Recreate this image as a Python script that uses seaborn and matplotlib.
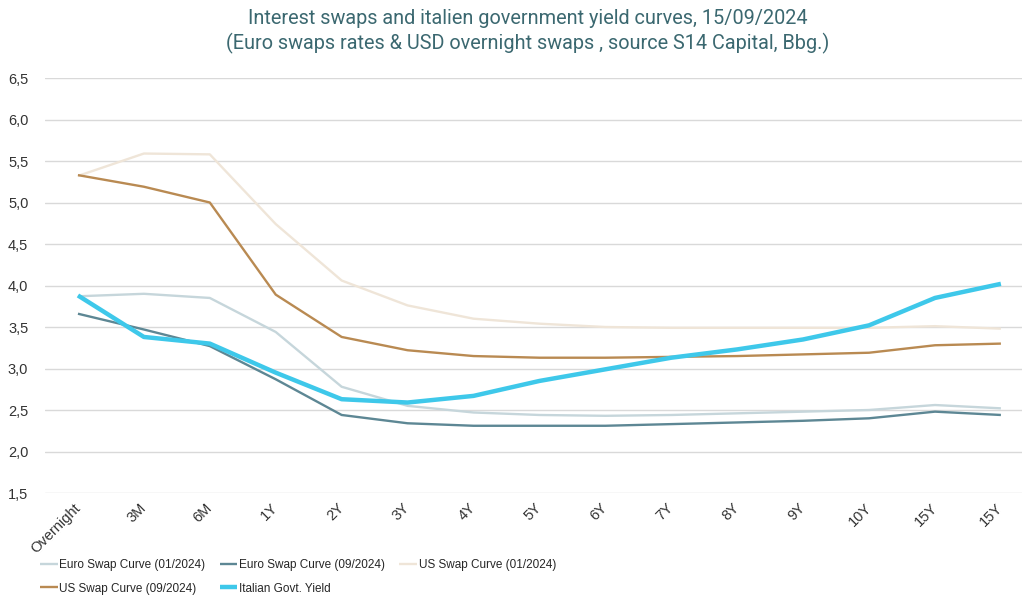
import matplotlib
matplotlib.use("Agg")
import matplotlib.pyplot as plt
import seaborn as sns
import pandas as pd
from matplotlib.ticker import FuncFormatter

# Tenors along the curve (the long end label appears twice in the source table)
tenors = ["Overnight", "3M", "6M", "1Y", "2Y", "3Y", "4Y", "5Y", "6Y", "7Y",
          "8Y", "9Y", "10Y", "15Y", "15Y"]

euro_swap_01_2024 = [3.87, 3.90, 3.85, 3.44, 2.78, 2.55, 2.47, 2.44, 2.43, 2.44,
                     2.46, 2.48, 2.50, 2.56, 2.52]
euro_swap_09_2024 = [3.66, 3.47, 3.27, 2.87, 2.44, 2.34, 2.31, 2.31, 2.31, 2.33,
                     2.35, 2.37, 2.40, 2.48, 2.44]
us_swap_01_2024 = [5.32, 5.59, 5.58, 4.74, 4.06, 3.76, 3.60, 3.54, 3.50, 3.49,
                   3.49, 3.49, 3.49, 3.51, 3.48]
us_swap_09_2024 = [5.33, 5.19, 5.00, 3.89, 3.38, 3.22, 3.15, 3.13, 3.13, 3.14,
                   3.15, 3.17, 3.19, 3.28, 3.30]
italian_govt_yield = [3.88, 3.38, 3.30, 2.95, 2.63, 2.59, 2.67, 2.85, 2.99, 3.13,
                      3.23, 3.35, 3.52, 3.85, 4.02]

series_names = ["Euro Swap Curve (01/2024)", "Euro Swap Curve (09/2024)",
                "US Swap Curve (01/2024)", "US Swap Curve (09/2024)",
                "Italian Govt. Yield"]
series_values = [euro_swap_01_2024, euro_swap_09_2024, us_swap_01_2024,
                 us_swap_09_2024, italian_govt_yield]
series_colors = ["#c6d6db", "#5d8794", "#efe5d8", "#b98a52", "#3ec8ea"]
series_widths = [1.7, 1.7, 1.7, 1.7, 3.2]

yticks = [1.5, 2.0, 2.5, 3.0, 3.5, 4.0, 4.5, 5.0, 5.5, 6.0, 6.5]

rows = []
for name, vals in zip(series_names, series_values):
    for i, v in enumerate(vals):
        rows.append({"series": name, "pos": i, "rate": v})
df = pd.DataFrame(rows)

sns.set_theme(style="white")
plt.rcParams["font.family"] = ["Liberation Sans", "DejaVu Sans"]

fig = plt.figure(figsize=(10.22, 5.99), dpi=100)
ax = fig.add_axes([45 / 1022, 1 - 493 / 599, 977 / 1022, (493 - 78) / 599])

handles = {}
for name, color, lw in zip(series_names, series_colors, series_widths):
    sub = df[df["series"] == name]
    sns.lineplot(data=sub, x="pos", y="rate", ax=ax, color=color, linewidth=lw,
                 label=name, legend=False, solid_capstyle="butt")
    handles[name] = ax.lines[-1]

ax.set_xlim(-0.5, 14.32)
ax.set_ylim(1.5, 6.5)
ax.set_yticks(yticks)
ax.yaxis.set_major_formatter(FuncFormatter(lambda v, p: f"{v:.1f}".replace(".", ",")))
ax.set_xticks(range(len(tenors)))
ax.set_xticklabels(tenors, rotation=45, ha="right", va="center",
                   rotation_mode="anchor", fontsize=10.5, color="#333333")
ax.tick_params(axis="x", length=0, pad=9)
ax.tick_params(axis="y", length=0, pad=12, labelsize=10.5, labelcolor="#333333")
ax.set_xlabel("")
ax.set_ylabel("")
ax.grid(axis="y", color="#d9d9d9", linewidth=1.0)
ax.grid(axis="x", visible=False)
for s in ax.spines.values():
    s.set_visible(False)

fig.text(0.516, 0.985,
         "Interest swaps and italien government yield curves, 15/09/2024\n"
         "(Euro swaps rates & USD overnight swaps , source S14 Capital, Bbg.)",
         ha="center", va="top", fontsize=14.3, color="#3b6870",
         family=["Roboto", "DejaVu Sans"], fontweight="normal", linespacing=1.3)

order = [series_names[0], series_names[3], series_names[1], series_names[4],
         series_names[2]]
fig.legend([handles[n] for n in order], order, ncol=3, frameon=False,
           loc="center left", bbox_to_anchor=(40 / 1022, 1 - 577 / 599),
           prop={"family": ["Liberation Sans"], "size": 8.5},
           handlelength=1.5, handletextpad=0.15, columnspacing=1.2,
           labelspacing=0.95, borderpad=0, borderaxespad=0,
           labelcolor="#262626")

fig.savefig("out.png", dpi=100)
